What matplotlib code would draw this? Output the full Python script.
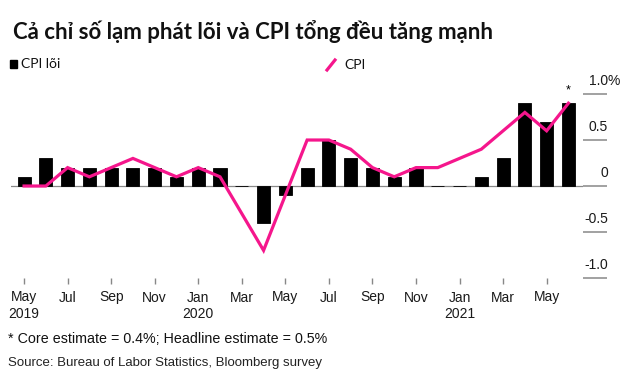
import matplotlib
matplotlib.use("Agg")
import matplotlib.pyplot as plt
import matplotlib.transforms as mtransforms
from matplotlib.patches import Rectangle
from matplotlib.lines import Line2D
import numpy as np

# ---- data ----
months = ["May", "Jun", "Jul", "Aug", "Sep", "Oct", "Nov", "Dec",
          "Jan", "Feb", "Mar", "Apr", "May", "Jun", "Jul", "Aug", "Sep", "Oct", "Nov", "Dec",
          "Jan", "Feb", "Mar", "Apr", "May", "Jun"]
years = ["2019", "", "", "", "", "", "", "",
         "2020", "", "", "", "", "", "", "", "", "", "", "",
         "2021", "", "", "", "", ""]
core_cpi = [0.1, 0.3, 0.2, 0.2, 0.2, 0.2, 0.2, 0.1, 0.2, 0.2, 0.0, -0.4, -0.1,
            0.2, 0.5, 0.3, 0.2, 0.1, 0.2, 0.0, 0.0, 0.1, 0.3, 0.9, 0.7, 0.9]
cpi = [0.0, 0.0, 0.2, 0.1, 0.2, 0.3, 0.2, 0.1, 0.2, 0.1, -0.3, -0.7, -0.1,
       0.5, 0.5, 0.4, 0.2, 0.1, 0.2, 0.2, 0.3, 0.4, 0.6, 0.8, 0.6, 0.9]
y_ticks = [1.0, 0.5, 0.0, -0.5, -1.0]
y_labels = ["1.0%", "0.5", "0", "-0.5", "-1.0"]

title = "Cả chỉ số lạm phát lõi và CPI tổng đều tăng mạnh"
legend_core = "CPI lõi"
legend_cpi = "CPI"
footnote = "* Core estimate = 0.4%; Headline estimate = 0.5%"
source = "Source: Bureau of Labor Statistics, Bloomberg survey"

PINK = "#F5168C"
GRAY = "#888888"
W, H = 630, 378

fig = plt.figure(figsize=(6.3, 3.78), dpi=100)
fig.patch.set_facecolor("white")

def fx(px):
    return px / W

def fy(py):
    return 1 - py / H

ax = fig.add_axes([fx(11), fy(278), fx(583) - fx(11), fy(85) - fy(278)])
x = np.arange(len(months))

ax.axhline(0, color=GRAY, lw=0.9, zorder=1)
ax.bar(x, core_cpi, width=0.6, color="black", edgecolor="black", linewidth=0.6, zorder=2)
ax.plot(x, cpi, color=PINK, lw=2.3, zorder=3, solid_joinstyle="miter")

ax.set_xlim(-0.6, len(months) - 1 + 0.67)
ax.set_ylim(-1.0, 1.098)

for s in ax.spines.values():
    s.set_visible(False)

# x ticks every 2 months
tick_idx = x[::2]
ax.set_xticks(tick_idx)
ax.set_xticklabels([f"{months[i]}\n{years[i]}" if years[i] else months[i] for i in tick_idx],
                   fontsize=10, family="Liberation Sans", color="#1a1a1a",
                   linespacing=1.25, va="top")
ax.tick_params(axis="x", length=4, width=1, color=GRAY, pad=5, direction="out")

# y ticks on the right as short lines with labels above
ax.yaxis.tick_right()
ax.set_yticks(y_ticks)
ax.set_yticklabels([])
ax.tick_params(axis="y", right=True, left=False, length=17, width=1.1, color=GRAY, pad=0)
for val, lab in zip(y_ticks, y_labels):
    num = lab.rstrip("%")
    suffix = lab[len(num):]
    trans = mtransforms.blended_transform_factory(ax.transAxes, ax.transData)
    off = mtransforms.ScaledTranslation(25 / 100, 13 / 100, fig.dpi_scale_trans)
    ax.text(1.0, val, num, transform=trans + off, ha="right", va="center",
            fontsize=10, family="Liberation Sans", color="#1a1a1a")
    if suffix:
        ax.text(1.0, val, suffix, transform=trans + off, ha="left", va="center",
                fontsize=10, family="Liberation Sans", color="#1a1a1a")

# estimate star above the last point
ax.annotate("*", (x[-1], cpi[-1]), xytext=(0, 5), textcoords="offset points",
            ha="center", va="bottom", fontsize=9, family="Liberation Sans")

# title
fig.text(fx(13), fy(32), title, fontsize=16, fontweight="bold", family=["Lato", "DejaVu Sans"],
         ha="left", va="center", color="#111111")

# legend
fig.add_artist(Rectangle((fx(10), fy(68)), fx(7), fy(60) - fy(68), color="black",
                         transform=fig.transFigure))
fig.text(fx(21), fy(64), legend_core, fontsize=10, family=["Lato", "DejaVu Sans"],
         ha="left", va="center", color="#111111")
fig.add_artist(Line2D([fx(327), fx(335)], [fy(70), fy(60)], color=PINK, lw=2.3,
                      transform=fig.transFigure))
fig.text(fx(344), fy(65), legend_cpi, fontsize=10, family=["Lato", "DejaVu Sans"],
         ha="left", va="center", color="#111111")

# footnotes
fig.text(fx(8), fy(339), footnote, fontsize=10.3, family="Liberation Sans",
         ha="left", va="center", color="#111111")
fig.text(fx(8), fy(363), source, fontsize=9.5, family="Liberation Sans",
         ha="left", va="center", color="#222222")

fig.savefig("out.png", dpi=100)
